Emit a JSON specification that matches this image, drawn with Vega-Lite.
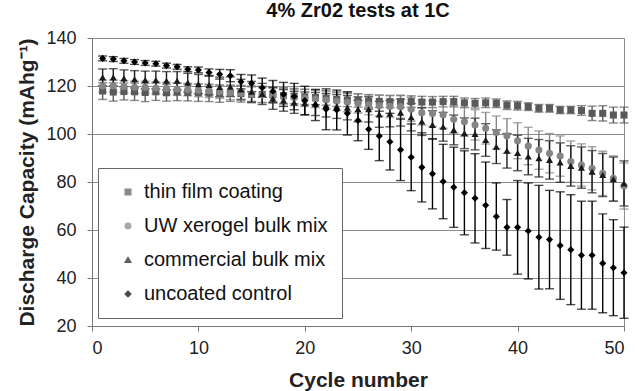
{
  "$schema": "https://vega.github.io/schema/vega-lite/v6.json",
  "width": 532,
  "height": 288,
  "autosize": {"type": "none"},
  "padding": {"left": 92, "top": 38, "right": 11, "bottom": 65},
  "background": "white",
  "title": {"text": "4% Zr02 tests at 1C", "font": "Liberation Sans", "fontSize": 20, "fontWeight": "bold", "color": "#111", "anchor": "middle", "offset": 8},
  "config": {
    "view": {"stroke": "#8c8c8c", "strokeWidth": 1},
    "axis": {
      "domainColor": "#777", "tickColor": "#777", "gridColor": "#8c8c8c", "gridOpacity": 1,
      "labelFont": "Liberation Sans", "labelFontSize": 18, "labelColor": "#222",
      "titleFont": "Liberation Sans", "titleFontSize": 21, "titleFontWeight": "bold", "titleColor": "#222",
      "tickSize": 5
    },
    "legend": {"labelFont": "Liberation Sans", "labelLimit": 400}
  },
  "data": {"values": [
    {"cycle":1,"series":"thin film coating","capacity":117.9,"sd":3.5},{"cycle":2,"series":"thin film coating","capacity":117.5,"sd":3.8},{"cycle":3,"series":"thin film coating","capacity":117.7,"sd":3.5},{"cycle":4,"series":"thin film coating","capacity":117.6,"sd":3.6},{"cycle":5,"series":"thin film coating","capacity":117.3,"sd":3.8},{"cycle":6,"series":"thin film coating","capacity":117.6,"sd":3.6},{"cycle":7,"series":"thin film coating","capacity":117.2,"sd":3.5},{"cycle":8,"series":"thin film coating","capacity":117.5,"sd":3.6},{"cycle":9,"series":"thin film coating","capacity":117.3,"sd":3.5},{"cycle":10,"series":"thin film coating","capacity":117.2,"sd":3.6},
    {"cycle":11,"series":"thin film coating","capacity":117.0,"sd":3.5},{"cycle":12,"series":"thin film coating","capacity":116.8,"sd":3.6},{"cycle":13,"series":"thin film coating","capacity":117.0,"sd":3.4},{"cycle":14,"series":"thin film coating","capacity":116.8,"sd":3.5},{"cycle":15,"series":"thin film coating","capacity":116.5,"sd":3.5},{"cycle":16,"series":"thin film coating","capacity":116.5,"sd":3.4},{"cycle":17,"series":"thin film coating","capacity":116.3,"sd":3.3},{"cycle":18,"series":"thin film coating","capacity":116.0,"sd":3.3},{"cycle":19,"series":"thin film coating","capacity":115.8,"sd":3.2},{"cycle":20,"series":"thin film coating","capacity":115.5,"sd":3.2},
    {"cycle":21,"series":"thin film coating","capacity":115.2,"sd":3.0},{"cycle":22,"series":"thin film coating","capacity":115.0,"sd":3.0},{"cycle":23,"series":"thin film coating","capacity":114.5,"sd":3.0},{"cycle":24,"series":"thin film coating","capacity":114.2,"sd":2.8},{"cycle":25,"series":"thin film coating","capacity":114.0,"sd":2.8},{"cycle":26,"series":"thin film coating","capacity":113.8,"sd":2.6},{"cycle":27,"series":"thin film coating","capacity":113.6,"sd":2.6},{"cycle":28,"series":"thin film coating","capacity":113.5,"sd":2.5},{"cycle":29,"series":"thin film coating","capacity":113.5,"sd":2.5},{"cycle":30,"series":"thin film coating","capacity":113.5,"sd":2.4},
    {"cycle":31,"series":"thin film coating","capacity":113.3,"sd":2.4},{"cycle":32,"series":"thin film coating","capacity":113.3,"sd":2.3},{"cycle":33,"series":"thin film coating","capacity":113.5,"sd":2.2},{"cycle":34,"series":"thin film coating","capacity":113.5,"sd":2.2},{"cycle":35,"series":"thin film coating","capacity":113.0,"sd":2.0},{"cycle":36,"series":"thin film coating","capacity":112.8,"sd":2.0},{"cycle":37,"series":"thin film coating","capacity":113.0,"sd":2.0},{"cycle":38,"series":"thin film coating","capacity":112.8,"sd":1.8},{"cycle":39,"series":"thin film coating","capacity":112.0,"sd":1.8},{"cycle":40,"series":"thin film coating","capacity":111.8,"sd":1.8},
    {"cycle":41,"series":"thin film coating","capacity":111.4,"sd":1.6},{"cycle":42,"series":"thin film coating","capacity":110.7,"sd":1.6},{"cycle":43,"series":"thin film coating","capacity":110.7,"sd":1.6},{"cycle":44,"series":"thin film coating","capacity":110.0,"sd":1.5},{"cycle":45,"series":"thin film coating","capacity":110.0,"sd":1.5},{"cycle":46,"series":"thin film coating","capacity":109.8,"sd":2.0},{"cycle":47,"series":"thin film coating","capacity":108.6,"sd":3.0},{"cycle":48,"series":"thin film coating","capacity":108.6,"sd":3.2},{"cycle":49,"series":"thin film coating","capacity":107.9,"sd":3.3},{"cycle":50,"series":"thin film coating","capacity":107.9,"sd":3.3},

    {"cycle":1,"series":"UW xerogel bulk mix","capacity":120.0,"sd":2.5},{"cycle":2,"series":"UW xerogel bulk mix","capacity":120.0,"sd":2.5},{"cycle":3,"series":"UW xerogel bulk mix","capacity":119.8,"sd":2.5},{"cycle":4,"series":"UW xerogel bulk mix","capacity":119.5,"sd":2.5},{"cycle":5,"series":"UW xerogel bulk mix","capacity":119.5,"sd":2.5},{"cycle":6,"series":"UW xerogel bulk mix","capacity":119.2,"sd":2.5},{"cycle":7,"series":"UW xerogel bulk mix","capacity":119.0,"sd":2.6},{"cycle":8,"series":"UW xerogel bulk mix","capacity":118.7,"sd":2.6},{"cycle":9,"series":"UW xerogel bulk mix","capacity":118.5,"sd":2.6},{"cycle":10,"series":"UW xerogel bulk mix","capacity":118.2,"sd":2.7},
    {"cycle":11,"series":"UW xerogel bulk mix","capacity":118.0,"sd":2.8},{"cycle":12,"series":"UW xerogel bulk mix","capacity":117.6,"sd":2.8},{"cycle":13,"series":"UW xerogel bulk mix","capacity":117.2,"sd":2.9},{"cycle":14,"series":"UW xerogel bulk mix","capacity":117.0,"sd":3.0},{"cycle":15,"series":"UW xerogel bulk mix","capacity":116.6,"sd":3.0},{"cycle":16,"series":"UW xerogel bulk mix","capacity":116.2,"sd":3.1},{"cycle":17,"series":"UW xerogel bulk mix","capacity":116.0,"sd":3.2},{"cycle":18,"series":"UW xerogel bulk mix","capacity":115.6,"sd":3.3},{"cycle":19,"series":"UW xerogel bulk mix","capacity":115.2,"sd":3.4},{"cycle":20,"series":"UW xerogel bulk mix","capacity":115.0,"sd":3.5},
    {"cycle":21,"series":"UW xerogel bulk mix","capacity":114.6,"sd":3.6},{"cycle":22,"series":"UW xerogel bulk mix","capacity":114.2,"sd":3.7},{"cycle":23,"series":"UW xerogel bulk mix","capacity":113.6,"sd":3.8},{"cycle":24,"series":"UW xerogel bulk mix","capacity":113.2,"sd":3.9},{"cycle":25,"series":"UW xerogel bulk mix","capacity":112.7,"sd":4.0},{"cycle":26,"series":"UW xerogel bulk mix","capacity":112.2,"sd":4.2},{"cycle":27,"series":"UW xerogel bulk mix","capacity":111.8,"sd":4.4},{"cycle":28,"series":"UW xerogel bulk mix","capacity":111.5,"sd":4.6},{"cycle":29,"series":"UW xerogel bulk mix","capacity":111.4,"sd":4.8},{"cycle":30,"series":"UW xerogel bulk mix","capacity":110.3,"sd":5.0},
    {"cycle":31,"series":"UW xerogel bulk mix","capacity":108.9,"sd":5.2},{"cycle":32,"series":"UW xerogel bulk mix","capacity":108.5,"sd":5.4},{"cycle":33,"series":"UW xerogel bulk mix","capacity":108.0,"sd":5.6},{"cycle":34,"series":"UW xerogel bulk mix","capacity":106.1,"sd":5.8},{"cycle":35,"series":"UW xerogel bulk mix","capacity":105.1,"sd":6.0},{"cycle":36,"series":"UW xerogel bulk mix","capacity":103.8,"sd":6.3},{"cycle":37,"series":"UW xerogel bulk mix","capacity":102.4,"sd":6.6},{"cycle":38,"series":"UW xerogel bulk mix","capacity":100.6,"sd":6.9},{"cycle":39,"series":"UW xerogel bulk mix","capacity":99.2,"sd":7.2},{"cycle":40,"series":"UW xerogel bulk mix","capacity":97.2,"sd":7.5},
    {"cycle":41,"series":"UW xerogel bulk mix","capacity":95.0,"sd":7.8},{"cycle":42,"series":"UW xerogel bulk mix","capacity":93.3,"sd":8.0},{"cycle":43,"series":"UW xerogel bulk mix","capacity":92.0,"sd":8.2},{"cycle":44,"series":"UW xerogel bulk mix","capacity":90.8,"sd":8.4},{"cycle":45,"series":"UW xerogel bulk mix","capacity":88.5,"sd":8.6},{"cycle":46,"series":"UW xerogel bulk mix","capacity":87.1,"sd":8.8},{"cycle":47,"series":"UW xerogel bulk mix","capacity":85.7,"sd":9.0},{"cycle":48,"series":"UW xerogel bulk mix","capacity":83.6,"sd":9.2},{"cycle":49,"series":"UW xerogel bulk mix","capacity":81.5,"sd":9.4},{"cycle":50,"series":"UW xerogel bulk mix","capacity":78.3,"sd":9.6},

    {"cycle":1,"series":"commercial bulk mix","capacity":123.6,"sd":3.5},{"cycle":2,"series":"commercial bulk mix","capacity":123.6,"sd":3.6},{"cycle":3,"series":"commercial bulk mix","capacity":123.2,"sd":3.5},{"cycle":4,"series":"commercial bulk mix","capacity":122.8,"sd":3.6},{"cycle":5,"series":"commercial bulk mix","capacity":122.5,"sd":3.7},{"cycle":6,"series":"commercial bulk mix","capacity":122.5,"sd":3.7},{"cycle":7,"series":"commercial bulk mix","capacity":122.2,"sd":3.8},{"cycle":8,"series":"commercial bulk mix","capacity":122.2,"sd":3.8},{"cycle":9,"series":"commercial bulk mix","capacity":121.4,"sd":3.9},{"cycle":10,"series":"commercial bulk mix","capacity":120.8,"sd":4.0},
    {"cycle":11,"series":"commercial bulk mix","capacity":120.4,"sd":4.0},{"cycle":12,"series":"commercial bulk mix","capacity":119.6,"sd":4.1},{"cycle":13,"series":"commercial bulk mix","capacity":119.7,"sd":4.1},{"cycle":14,"series":"commercial bulk mix","capacity":118.6,"sd":4.2},{"cycle":15,"series":"commercial bulk mix","capacity":117.6,"sd":4.3},{"cycle":16,"series":"commercial bulk mix","capacity":116.7,"sd":4.4},{"cycle":17,"series":"commercial bulk mix","capacity":114.8,"sd":4.5},{"cycle":18,"series":"commercial bulk mix","capacity":114.0,"sd":4.5},{"cycle":19,"series":"commercial bulk mix","capacity":113.2,"sd":4.6},{"cycle":20,"series":"commercial bulk mix","capacity":112.8,"sd":4.7},
    {"cycle":21,"series":"commercial bulk mix","capacity":112.5,"sd":4.8},{"cycle":22,"series":"commercial bulk mix","capacity":112.0,"sd":4.9},{"cycle":23,"series":"commercial bulk mix","capacity":111.5,"sd":5.0},{"cycle":24,"series":"commercial bulk mix","capacity":111.0,"sd":5.1},{"cycle":25,"series":"commercial bulk mix","capacity":110.3,"sd":5.2},{"cycle":26,"series":"commercial bulk mix","capacity":110.3,"sd":5.3},{"cycle":27,"series":"commercial bulk mix","capacity":108.2,"sd":5.4},{"cycle":28,"series":"commercial bulk mix","capacity":108.5,"sd":5.5},{"cycle":29,"series":"commercial bulk mix","capacity":108.9,"sd":5.6},{"cycle":30,"series":"commercial bulk mix","capacity":107.0,"sd":5.7},
    {"cycle":31,"series":"commercial bulk mix","capacity":105.2,"sd":5.8},{"cycle":32,"series":"commercial bulk mix","capacity":103.8,"sd":5.9},{"cycle":33,"series":"commercial bulk mix","capacity":103.0,"sd":6.0},{"cycle":34,"series":"commercial bulk mix","capacity":101.7,"sd":6.2},{"cycle":35,"series":"commercial bulk mix","capacity":100.3,"sd":6.4},{"cycle":36,"series":"commercial bulk mix","capacity":100.0,"sd":6.6},{"cycle":37,"series":"commercial bulk mix","capacity":97.5,"sd":6.8},{"cycle":38,"series":"commercial bulk mix","capacity":94.7,"sd":7.0},{"cycle":39,"series":"commercial bulk mix","capacity":93.0,"sd":7.2},{"cycle":40,"series":"commercial bulk mix","capacity":92.1,"sd":7.4},
    {"cycle":41,"series":"commercial bulk mix","capacity":90.6,"sd":7.6},{"cycle":42,"series":"commercial bulk mix","capacity":89.9,"sd":7.8},{"cycle":43,"series":"commercial bulk mix","capacity":89.2,"sd":8.0},{"cycle":44,"series":"commercial bulk mix","capacity":88.1,"sd":8.2},{"cycle":45,"series":"commercial bulk mix","capacity":86.7,"sd":8.4},{"cycle":46,"series":"commercial bulk mix","capacity":86.0,"sd":8.6},{"cycle":47,"series":"commercial bulk mix","capacity":84.3,"sd":8.8},{"cycle":48,"series":"commercial bulk mix","capacity":82.9,"sd":9.0},{"cycle":49,"series":"commercial bulk mix","capacity":81.2,"sd":9.2},{"cycle":50,"series":"commercial bulk mix","capacity":79.4,"sd":9.4},

    {"cycle":1,"series":"uncoated control","capacity":131.5,"sd":1.0},{"cycle":2,"series":"uncoated control","capacity":131.2,"sd":1.0},{"cycle":3,"series":"uncoated control","capacity":130.5,"sd":1.0},{"cycle":4,"series":"uncoated control","capacity":130.0,"sd":1.0},{"cycle":5,"series":"uncoated control","capacity":129.6,"sd":1.0},{"cycle":6,"series":"uncoated control","capacity":129.3,"sd":1.0},{"cycle":7,"series":"uncoated control","capacity":128.5,"sd":1.0},{"cycle":8,"series":"uncoated control","capacity":128.0,"sd":1.0},{"cycle":9,"series":"uncoated control","capacity":127.0,"sd":1.0},{"cycle":10,"series":"uncoated control","capacity":126.7,"sd":1.2},
    {"cycle":11,"series":"uncoated control","capacity":125.6,"sd":1.5},{"cycle":12,"series":"uncoated control","capacity":124.9,"sd":2.0},{"cycle":13,"series":"uncoated control","capacity":124.3,"sd":2.5},{"cycle":14,"series":"uncoated control","capacity":121.8,"sd":3.0},{"cycle":15,"series":"uncoated control","capacity":121.1,"sd":3.5},{"cycle":16,"series":"uncoated control","capacity":119.3,"sd":4.0},{"cycle":17,"series":"uncoated control","capacity":117.8,"sd":4.5},{"cycle":18,"series":"uncoated control","capacity":116.5,"sd":5.0},{"cycle":19,"series":"uncoated control","capacity":115.6,"sd":5.5},{"cycle":20,"series":"uncoated control","capacity":113.9,"sd":6.0},
    {"cycle":21,"series":"uncoated control","capacity":112.1,"sd":6.5},{"cycle":22,"series":"uncoated control","capacity":110.3,"sd":8.5},{"cycle":23,"series":"uncoated control","capacity":110.0,"sd":8.3},{"cycle":24,"series":"uncoated control","capacity":108.6,"sd":9.0},{"cycle":25,"series":"uncoated control","capacity":105.6,"sd":8.4},{"cycle":26,"series":"uncoated control","capacity":102.0,"sd":8.4},{"cycle":27,"series":"uncoated control","capacity":99.2,"sd":10.3},{"cycle":28,"series":"uncoated control","capacity":96.8,"sd":11.8},{"cycle":29,"series":"uncoated control","capacity":93.4,"sd":12.8},{"cycle":30,"series":"uncoated control","capacity":90.3,"sd":13.9},
    {"cycle":31,"series":"uncoated control","capacity":86.1,"sd":14.4},{"cycle":32,"series":"uncoated control","capacity":83.4,"sd":14.6},{"cycle":33,"series":"uncoated control","capacity":80.2,"sd":15.5},{"cycle":34,"series":"uncoated control","capacity":77.8,"sd":16.7},{"cycle":35,"series":"uncoated control","capacity":75.5,"sd":17.5},{"cycle":36,"series":"uncoated control","capacity":73.2,"sd":18.6},{"cycle":37,"series":"uncoated control","capacity":70.3,"sd":18.0},{"cycle":38,"series":"uncoated control","capacity":65.6,"sd":14.0},{"cycle":39,"series":"uncoated control","capacity":61.1,"sd":11.6},{"cycle":40,"series":"uncoated control","capacity":61.1,"sd":19.5},
    {"cycle":41,"series":"uncoated control","capacity":59.6,"sd":20.0},{"cycle":42,"series":"uncoated control","capacity":57.0,"sd":21.6},{"cycle":43,"series":"uncoated control","capacity":56.0,"sd":20.5},{"cycle":44,"series":"uncoated control","capacity":53.5,"sd":22.4},{"cycle":45,"series":"uncoated control","capacity":51.8,"sd":22.9},{"cycle":46,"series":"uncoated control","capacity":49.5,"sd":22.5},{"cycle":47,"series":"uncoated control","capacity":49.5,"sd":22.5},{"cycle":48,"series":"uncoated control","capacity":46.1,"sd":20.6},{"cycle":49,"series":"uncoated control","capacity":44.3,"sd":20.0},{"cycle":50,"series":"uncoated control","capacity":42.2,"sd":19.0}
  ]},
  "encoding": {
    "x": {"field": "cycle", "type": "quantitative", "scale": {"domain": [0, 50], "nice": false},
          "axis": {"title": "Cycle number", "values": [0, 10, 20, 30, 40, 50], "grid": false, "labelPadding": 8, "titlePadding": 12}},
    "y": {"field": "capacity", "type": "quantitative", "scale": {"domain": [20, 140], "nice": false, "zero": false},
          "axis": {"title": "Discharge Capacity (mAhg⁻¹)", "values": [20, 40, 60, 80, 100, 120, 140], "grid": true, "labelPadding": 11, "titlePadding": 8}},
    "color": {"field": "series", "type": "nominal",
              "scale": {"domain": ["thin film coating", "UW xerogel bulk mix", "commercial bulk mix", "uncoated control"],
                        "range": ["#5a5a5a", "#858585", "#1a1a1a", "#000000"]},
              "legend": {"title": null, "orient": "none", "legendX": 6, "legendY": 130, "direction": "vertical",
                         "strokeColor": "#666", "fillColor": "white", "padding": 14,
                         "labelFontSize": 20, "labelColor": "#111", "symbolSize": 30, "rowPadding": 14,
                         "symbolOffset": 6, "labelOffset": 6, "labelLimit": 400}}
  },
  "layer": [
    {
      "mark": {"type": "errorbar", "ticks": {"size": 9}, "thickness": 1.4},
      "encoding": {
        "yError": {"field": "sd"}
      }
    },
    {
      "mark": {"type": "point", "filled": true, "opacity": 1, "size": 50},
      "encoding": {
        "shape": {"field": "series", "type": "nominal",
                  "scale": {"domain": ["thin film coating", "UW xerogel bulk mix", "commercial bulk mix", "uncoated control"],
                            "range": ["square", "circle", "triangle-up", "diamond"]},
                  "legend": {"title": null, "orient": "none", "legendX": 6, "legendY": 130, "direction": "vertical",
                             "strokeColor": "#666", "fillColor": "white", "padding": 14,
                             "labelFontSize": 20, "labelColor": "#111", "symbolSize": 30, "rowPadding": 14,
                             "symbolOffset": 6, "labelOffset": 6, "labelLimit": 400}}
      }
    }
  ]
}
